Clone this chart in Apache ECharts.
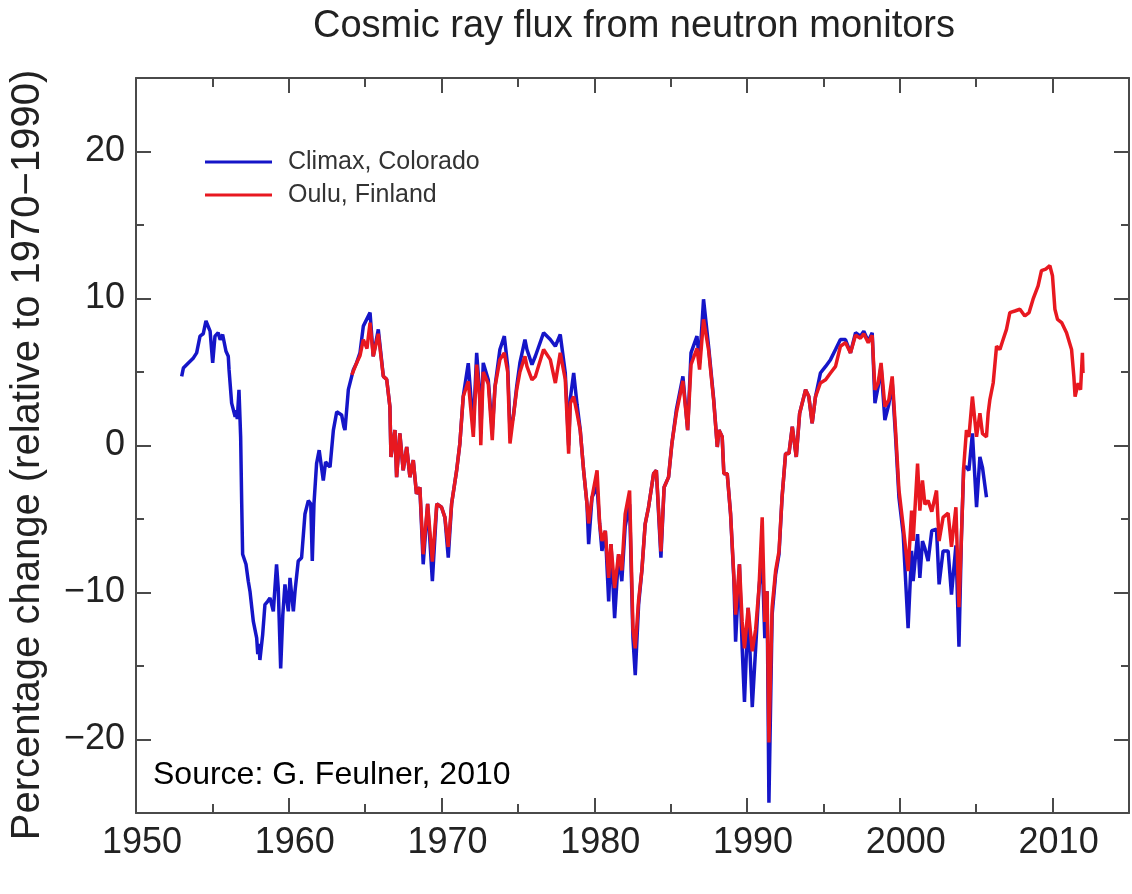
<!DOCTYPE html>
<html>
<head>
<meta charset="utf-8">
<script src="https://cdn.jsdelivr.net/npm/echarts@6/dist/echarts.min.js"></script>
<style>
html,body{margin:0;padding:0;background:#fff;}
#chart{width:1132px;height:894px;}
</style>
</head>
<body>
<div id="chart"></div>
<script>
// ---- data ----
const climaxYears = [1952.99,1953.10,1953.41,1953.76,1953.97,1954.19,1954.40,1954.58,1954.85,1955.02,1955.17,1955.38,1955.51,1955.67,1955.89,1956.04,1956.09,1956.26,1956.49,1956.56,1956.63,1956.74,1956.85,1956.92,1956.98,1957.20,1957.35,1957.46,1957.68,1957.90,1957.97,1958.05,1958.11,1958.29,1958.44,1958.62,1958.77,1958.99,1959.20,1959.31,1959.47,1959.61,1959.75,1959.97,1960.08,1960.30,1960.41,1960.62,1960.84,1961.06,1961.28,1961.44,1961.54,1961.65,1961.82,1961.99,1962.26,1962.41,1962.70,1962.92,1963.14,1963.46,1963.61,1963.68,1963.90,1964.23,1964.44,1964.66,1964.88,1965.32,1965.53,1965.65,1965.86,1966.19,1966.41,1966.62,1966.69,1966.95,1967.06,1967.27,1967.49,1967.72,1967.93,1968.15,1968.36,1968.58,1968.80,1969.09,1969.40,1969.69,1970.00,1970.22,1970.44,1970.66,1970.99,1971.20,1971.42,1971.75,1972.08,1972.30,1972.51,1972.57,1972.73,1973.06,1973.32,1973.50,1973.82,1974.11,1974.33,1974.48,1974.70,1974.92,1975.13,1975.46,1975.59,1975.92,1976.14,1976.68,1977.12,1977.45,1977.77,1978.10,1978.32,1978.43,1978.65,1978.87,1979.08,1979.30,1979.52,1979.63,1979.85,1980.18,1980.35,1980.50,1980.72,1980.94,1981.09,1981.33,1981.59,1981.80,1982.02,1982.31,1982.53,1982.68,1982.90,1983.11,1983.33,1983.55,1983.88,1984.06,1984.36,1984.57,1984.86,1985.08,1985.37,1985.80,1986.11,1986.33,1986.72,1986.89,1987.15,1987.48,1987.81,1988.05,1988.16,1988.37,1988.48,1988.70,1988.92,1989.14,1989.25,1989.50,1989.68,1989.83,1990.07,1990.34,1990.56,1990.78,1990.99,1991.16,1991.31,1991.43,1991.64,1991.87,1992.09,1992.29,1992.52,1992.74,1992.96,1993.22,1993.44,1993.83,1994.04,1994.26,1994.48,1994.80,1995.14,1995.46,1995.79,1996.11,1996.44,1996.77,1997.10,1997.42,1997.64,1997.93,1998.19,1998.37,1998.58,1998.77,1999.02,1999.28,1999.50,1999.72,1999.94,2000.22,2000.54,2000.77,2000.87,2001.16,2001.31,2001.48,2001.64,2001.85,2002.09,2002.40,2002.57,2002.83,2003.16,2003.38,2003.67,2003.87,2004.03,2004.18,2004.36,2004.52,2004.75,2005.02,2005.24,2005.41,2005.67];
const climaxValues = [4.7,5.27,5.6,5.96,6.3,7.44,7.6,8.47,7.78,5.62,7.44,7.67,7.2,7.55,6.41,6.07,5.16,2.88,1.96,2.4,1.8,3.79,0.59,-3.97,-7.4,-8.08,-9.23,-9.91,-11.97,-13.11,-14.2,-13.5,-14.59,-12.88,-10.82,-10.6,-10.37,-11.28,-8.08,-9.68,-15.16,-11.5,-9.45,-11.28,-9.0,-11.28,-9.91,-7.86,-7.63,-4.66,-3.75,-3.97,-7.86,-3.97,-1.23,-0.32,-2.38,-1.12,-1.47,1.05,2.3,2.08,1.27,1.05,3.8,5.16,5.62,6.3,8.12,9.04,6.07,6.2,7.9,4.7,4.5,2.64,-0.78,1.05,-2.15,0.82,-1.69,-0.1,-2.15,-1.0,-3.29,-2.84,-8.08,-3.97,-9.23,-3.97,-4.2,-4.89,-7.63,-3.97,-1.69,0.14,3.33,5.6,1.2,6.3,3.33,0.8,5.62,4.47,1.0,4.01,6.53,7.44,5.38,1.0,1.96,4.01,5.62,7.21,6.53,5.5,6.07,7.67,7.21,6.75,7.55,4.93,0.0,3.2,4.93,2.8,1.05,-1.69,-3.97,-6.71,-3.52,-2.8,-5.34,-7.17,-5.8,-10.6,-6.71,-11.74,-7.4,-9.23,-5.5,-4.0,-13.11,-15.62,-10.82,-8.54,-5.34,-4.2,-1.92,-1.69,-7.63,-2.84,-2.15,0.14,2.42,4.7,1.05,6.3,7.44,5.6,9.95,6.75,3.2,-0.1,1.05,0.59,-1.92,-1.92,-4.66,-9.23,-13.34,-8.08,-13.8,-17.45,-11.05,-17.8,-13.8,-9.68,-7.6,-13.11,-9.91,-24.3,-11.5,-8.77,-7.4,-3.52,-0.55,-0.55,1.27,-0.78,2.19,3.79,3.33,1.51,3.33,4.93,5.38,5.84,6.53,7.21,7.21,6.3,7.67,7.44,7.78,7.1,7.67,2.88,4.0,5.4,1.73,2.8,4.3,0.6,-3.52,-6.03,-12.42,-7.17,-9.23,-6.03,-9.0,-6.5,-7.0,-7.86,-5.8,-5.7,-9.45,-7.17,-7.17,-10.14,-6.8,-13.68,-6.26,-1.47,-1.47,-1.69,0.82,-4.2,-0.78,-1.5,-3.52];

const ouluYears = [1964.13,1964.44,1964.66,1964.88,1965.12,1965.32,1965.53,1965.65,1965.86,1966.19,1966.41,1966.62,1966.69,1966.95,1967.06,1967.27,1967.49,1967.72,1967.93,1968.15,1968.36,1968.58,1968.80,1969.09,1969.40,1969.69,1970.00,1970.22,1970.44,1970.66,1970.99,1971.20,1971.42,1971.75,1972.08,1972.30,1972.51,1972.57,1972.73,1973.06,1973.32,1973.50,1973.82,1974.11,1974.33,1974.48,1974.70,1974.92,1975.13,1975.46,1975.59,1975.92,1976.14,1976.68,1977.12,1977.45,1977.77,1978.10,1978.32,1978.43,1978.65,1978.87,1979.08,1979.30,1979.52,1979.63,1979.85,1980.18,1980.35,1980.50,1980.72,1980.94,1981.09,1981.33,1981.59,1981.80,1982.02,1982.31,1982.53,1982.68,1982.90,1983.11,1983.33,1983.55,1983.88,1984.06,1984.36,1984.57,1984.86,1985.08,1985.37,1985.80,1986.11,1986.33,1986.72,1986.89,1987.15,1987.48,1987.81,1988.05,1988.16,1988.37,1988.48,1988.70,1988.92,1989.14,1989.25,1989.50,1989.68,1989.83,1990.07,1990.34,1990.56,1990.78,1990.99,1991.16,1991.31,1991.43,1991.64,1991.87,1992.09,1992.29,1992.52,1992.74,1992.96,1993.22,1993.44,1993.83,1994.04,1994.26,1994.48,1994.80,1995.14,1995.46,1995.79,1996.11,1996.44,1996.77,1997.10,1997.42,1997.64,1997.93,1998.19,1998.37,1998.58,1998.77,1999.02,1999.28,1999.50,1999.72,1999.94,2000.22,2000.54,2000.77,2000.87,2001.16,2001.31,2001.48,2001.64,2001.85,2002.09,2002.40,2002.57,2002.83,2003.16,2003.38,2003.67,2003.87,2004.03,2004.18,2004.36,2004.52,2004.75,2005.02,2005.24,2005.41,2005.67,2005.78,2005.89,2006.11,2006.33,2006.55,2006.76,2006.98,2007.20,2007.53,2007.86,2008.18,2008.46,2008.72,2009.05,2009.27,2009.55,2009.82,2009.99,2010.15,2010.32,2010.59,2010.91,2011.24,2011.39,2011.47,2011.67,2011.83,2011.95,2011.99];
const ouluValues = [4.8,5.62,6.1,7.2,6.6,8.36,6.07,6.0,7.6,4.7,4.5,2.64,-0.78,1.05,-2.15,0.82,-1.69,-0.1,-2.15,-1.0,-3.29,-2.84,-7.4,-3.97,-7.9,-3.97,-4.2,-4.89,-6.9,-3.97,-1.69,0.14,3.33,4.36,0.59,5.5,3.0,0.02,5.0,4.2,0.36,4.0,5.84,6.3,5.0,0.14,1.96,3.8,5.0,6.07,5.38,4.47,4.7,6.53,5.84,4.25,6.3,4.5,-0.55,2.88,3.33,2.2,1.0,-1.69,-3.97,-5.3,-3.52,-1.69,-5.34,-6.5,-5.8,-9.0,-6.71,-9.7,-7.4,-8.5,-4.66,-3.06,-12.5,-13.8,-10.5,-8.54,-5.34,-4.2,-1.92,-1.69,-7.2,-2.84,-2.15,0.14,2.2,4.4,1.05,5.5,6.6,5.16,8.58,6.5,3.1,-0.1,1.05,0.59,-1.92,-1.92,-4.66,-9.0,-11.5,-8.08,-12.0,-13.8,-11.05,-14.0,-12.5,-9.68,-4.89,-12.0,-9.91,-20.2,-11.0,-8.5,-7.2,-3.52,-0.55,-0.55,1.27,-0.78,2.19,3.79,3.33,1.51,3.33,4.25,4.47,4.93,5.38,6.75,7.0,6.3,7.5,7.3,7.6,7.0,7.5,3.79,4.25,5.62,2.64,3.1,4.7,1.05,-3.0,-5.5,-8.54,-4.43,-6.49,-1.23,-4.43,-2.38,-4.0,-3.75,-4.5,-3.06,-6.5,-4.89,-4.6,-6.9,-4.2,-11.0,-6.26,-1.47,1.05,0.59,3.33,0.59,2.19,0.8,0.59,2.19,3.1,4.25,6.75,6.53,7.21,7.9,9.04,9.15,9.27,8.81,9.04,9.95,10.86,11.89,12.0,12.23,11.55,9.27,8.58,8.36,7.67,6.53,4.7,3.33,4.25,3.79,6.3,4.93];

const xMajorTicks = [1950, 1960, 1970, 1980, 1990, 2000, 2010];
const xMinorTicks = [1955, 1965, 1975, 1985, 1995, 2005];
const yMajorTicks = [-20, -10, 0, 10, 20];
const yMinorTicks = [-15, -5, 5, 15];

const seriesNames = ['Climax, Colorado', 'Oulu, Finland'];
const titleText = 'Cosmic ray flux from neutron monitors';
const yNameText = 'Percentage change (relative to 1970\u22121990)';
const sourceText = 'Source: G. Feulner, 2010';

// ---- chart ----
const FONT = '"Liberation Sans", Arial, Helvetica, sans-serif';
const AX = '#4a4a4a';
const chart = echarts.init(document.getElementById('chart'));

function xAx(pos, ticks, len, line, labels) {
  return {
    type: 'value', position: pos, min: 1950, max: 2015,
    axisLine: { show: line, onZero: false, lineStyle: { color: AX, width: 2 } },
    axisTick: { show: true, inside: true, length: len, customValues: ticks, lineStyle: { color: AX, width: 2 } },
    axisLabel: labels ? { show: true, customValues: xMajorTicks, fontSize: 36, fontFamily: FONT, color: '#222', margin: 12,
      padding: [0, 0, 0, 12], formatter: v => String(Math.round(v)) } : { show: false },
    splitLine: { show: false }, minorTick: { show: false }
  };
}
function yAx(pos, ticks, len, line, labels) {
  return {
    type: 'value', position: pos, min: -25, max: 25,
    axisLine: { show: line, onZero: false, lineStyle: { color: AX, width: 2 } },
    axisTick: { show: true, inside: true, length: len, customValues: ticks, lineStyle: { color: AX, width: 2 } },
    axisLabel: labels ? { show: true, customValues: yMajorTicks, fontSize: 36, fontFamily: FONT, color: '#222', margin: 11,
      formatter: v => (v < 0 ? '\u2212' + Math.abs(v) : String(v)) } : { show: false },
    splitLine: { show: false }, minorTick: { show: false }
  };
}

const climaxData = climaxYears.map((y, i) => [y, climaxValues[i]]);
const ouluData = ouluYears.map((y, i) => [y, ouluValues[i]]);

chart.setOption({
  animation: false,
  backgroundColor: '#fff',
  grid: { left: 136, right: 3, top: 78, bottom: 81, containLabel: false },
  xAxis: [
    xAx('bottom', xMajorTicks, 15, true, true),
    xAx('bottom', xMinorTicks, 9, false, false),
    xAx('top', xMajorTicks, 15, true, false),
    xAx('top', xMinorTicks, 9, false, false)
  ],
  yAxis: [
    yAx('left', yMajorTicks, 15, true, true),
    yAx('left', yMinorTicks, 8, false, false),
    yAx('right', yMajorTicks, 15, true, false),
    yAx('right', yMinorTicks, 8, false, false)
  ],
  legend: {
    data: seriesNames, orient: 'vertical', left: 205, top: 148, padding: 0,
    icon: 'rect', itemWidth: 67, itemHeight: 3, itemGap: 5,
    textStyle: { fontSize: 25, fontFamily: FONT, color: '#333', lineHeight: 28, padding: [0, 0, 0, 11] },
    selectedMode: false
  },
  series: [
    { name: seriesNames[0], type: 'line', data: climaxData, showSymbol: false, symbol: 'none',
      lineStyle: { color: '#1515c8', width: 3.5 }, itemStyle: { color: '#1515c8' }, z: 2 },
    { name: seriesNames[1], type: 'line', data: ouluData, showSymbol: false, symbol: 'none',
      lineStyle: { color: '#e81820', width: 3.5 }, itemStyle: { color: '#e81820' }, z: 3 }
  ],
  graphic: [
    { type: 'text', x: 634, y: 27, z: 10,
      style: { text: titleText, font: '38px ' + FONT, fill: '#222', textAlign: 'center', textVerticalAlign: 'middle' } },
    { type: 'text', x: 28, y: 455, rotation: Math.PI / 2, z: 10,
      style: { text: yNameText, font: '40px ' + FONT, fill: '#222', textAlign: 'center', textVerticalAlign: 'middle' } },
    { type: 'text', x: 153, y: 775, z: 10,
      style: { text: sourceText, font: '32px ' + FONT, fill: '#000', textAlign: 'left', textVerticalAlign: 'middle' } }
  ]
});
</script>
</body>
</html>
